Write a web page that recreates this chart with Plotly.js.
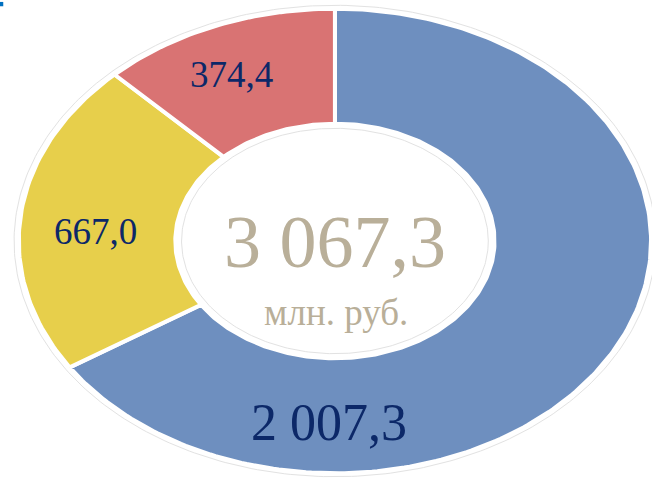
<!DOCTYPE html>
<html>
<head>
<meta charset="utf-8">
<script src="https://cdn.plot.ly/plotly-3.0.1.min.js"></script>
<style>
  html, body { margin: 0; padding: 0; background: #ffffff; }
  #chart { width: 652px; height: 482px; }
</style>
</head>
<body>
<div id="chart"></div>
<script>
// slice data, clockwise from 12 o'clock
var sliceNames = ['Сегмент 1', 'Сегмент 2', 'Сегмент 3'];
var sliceValues = [2007.3, 667.0, 374.4];
var sliceLabels = ['2 007,3', '667,0', '374,4'];
var sliceColors = ['#6e8fbf', '#e7cf4b', '#d97373'];
var totalLabel = '3 067,3';
var unitLabel = 'млн. руб.';

// where the value labels sit (data units of the unit circle)
var labelPos = [[-0.02, -0.79], [-0.765, 0.04], [-0.33, 0.722]];
var labelSize = [52, 37, 37];

var R_OUT = 1.01, R_IN = 0.51;
var SERIF = 'Liberation Serif';

function arc(r, a0, a1, n) {
    let xs = [], ys = [];
    for (let k = 0; k <= n; k++) {
        let a = (a0 + (a1 - a0) * k / n) * Math.PI / 180;
        xs.push(r * Math.cos(a));
        ys.push(r * Math.sin(a));
    }
    return [xs, ys];
}

var total = sliceValues.reduce(function(a, b) { return a + b; }, 0);
var traces = [];

// faint rim around the ring and the hole
[1.025, 0.49].forEach(function(r) {
    let e = arc(r, 0, 360, 360);
    traces.push({
        type: 'scatter', mode: 'lines', x: e[0], y: e[1],
        line: {color: '#e2e2e2', width: 1}, hoverinfo: 'skip'
    });
});

var start = 90;
sliceValues.forEach(function(v, i) {
    let sweep = v / total * 360;
    let n = Math.max(2, Math.ceil(sweep));
    let outer = arc(R_OUT, start, start - sweep, n);
    let inner = arc(R_IN, start - sweep, start, n);
    let xs = outer[0].concat(inner[0]); xs.push(outer[0][0]);
    let ys = outer[1].concat(inner[1]); ys.push(outer[1][0]);
    traces.push({
        type: 'scatter', mode: 'lines', name: sliceNames[i],
        x: xs, y: ys, fill: 'toself', fillcolor: sliceColors[i],
        line: {color: '#ffffff', width: 4}, hoverinfo: 'skip'
    });
    start -= sweep;
});

var annotations = sliceLabels.map(function(t, i) {
    return {
        x: labelPos[i][0], y: labelPos[i][1], xref: 'x', yref: 'y',
        text: t, showarrow: false,
        font: {family: SERIF, size: labelSize[i], color: '#0c2868'}
    };
});
annotations.push({
    x: 0, y: -0.005, xref: 'x', yref: 'y', text: totalLabel, showarrow: false,
    font: {family: SERIF, size: 74, color: '#b9af99'}
});
annotations.push({
    x: 0.003, y: -0.31, xref: 'x', yref: 'y', text: unitLabel, showarrow: false,
    font: {family: SERIF, size: 37, color: '#b9af99'}
});

var layout = {
    width: 652, height: 482,
    margin: {l: 0, r: 0, t: 0, b: 0},
    paper_bgcolor: '#ffffff', plot_bgcolor: '#ffffff',
    showlegend: false,
    xaxis: {range: [-1.070, 1.013], visible: false, fixedrange: true},
    yaxis: {range: [-1.048, 1.048], visible: false, fixedrange: true},
    annotations: annotations,
    shapes: [{
        type: 'rect', xref: 'paper', yref: 'paper',
        x0: 0, x1: 0.005, y0: 0.987, y1: 0.996,
        fillcolor: '#0070c0', line: {width: 0}
    }]
};

Plotly.newPlot('chart', traces, layout, {displayModeBar: false, staticPlot: true});
</script>
</body>
</html>
